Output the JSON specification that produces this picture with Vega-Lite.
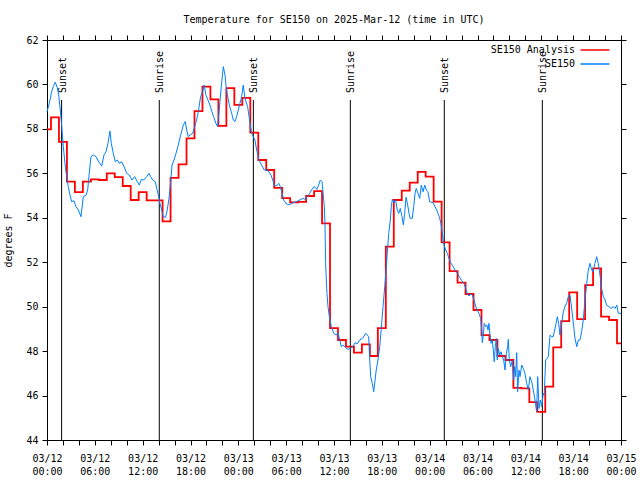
{
  "$schema": "https://vega.github.io/schema/vega-lite/v6.json",
  "width": 574,
  "height": 400,
  "autosize": "none",
  "padding": {"left": 47, "top": 40, "right": 19, "bottom": 40},
  "background": "white",
  "title": {"text": "Temperature for SE150 on 2025-Mar-12 (time in UTC)", "font": "DejaVu Sans Mono", "fontSize": 10, "fontWeight": "normal", "color": "black", "anchor": "middle", "frame": "group", "baseline": "alphabetic", "offset": 2},
  "config": {
    "font": "DejaVu Sans Mono",
    "view": {"stroke": "black", "strokeWidth": 1},
    "axis": {"labelFont": "DejaVu Sans Mono", "labelFontSize": 10, "labelColor": "black", "titleFont": "DejaVu Sans Mono", "titleFontSize": 10, "titleFontWeight": "normal", "titleColor": "black", "domain": false, "grid": false, "tickColor": "black", "tickWidth": 1, "labelOverlap": false, "labelFlush": false, "labelBound": false}
  },
  "datasets": {
    "sun": [
      {"t": "2025-03-12T01:50:00Z", "label": "Sunset"},
      {"t": "2025-03-12T14:05:00Z", "label": "Sunrise"},
      {"t": "2025-03-13T01:53:00Z", "label": "Sunset"},
      {"t": "2025-03-13T14:03:00Z", "label": "Sunrise"},
      {"t": "2025-03-14T01:50:00Z", "label": "Sunset"},
      {"t": "2025-03-14T14:08:00Z", "label": "Sunrise"}
    ],
    "analysis": [
      {"t": "2025-03-12T00:00:00Z", "v": 57.98}, {"t": "2025-03-12T01:00:00Z", "v": 58.52}, {"t": "2025-03-12T02:00:00Z", "v": 57.42}, {"t": "2025-03-12T03:00:00Z", "v": 55.63},
      {"t": "2025-03-12T04:00:00Z", "v": 55.15}, {"t": "2025-03-12T05:00:00Z", "v": 55.63}, {"t": "2025-03-12T06:00:00Z", "v": 55.73}, {"t": "2025-03-12T07:00:00Z", "v": 55.7},
      {"t": "2025-03-12T08:00:00Z", "v": 56.0}, {"t": "2025-03-12T09:00:00Z", "v": 55.83}, {"t": "2025-03-12T10:00:00Z", "v": 55.43}, {"t": "2025-03-12T11:00:00Z", "v": 54.8},
      {"t": "2025-03-12T12:00:00Z", "v": 55.15}, {"t": "2025-03-12T13:00:00Z", "v": 54.78}, {"t": "2025-03-12T14:00:00Z", "v": 54.78}, {"t": "2025-03-12T15:00:00Z", "v": 53.84},
      {"t": "2025-03-12T16:00:00Z", "v": 55.8}, {"t": "2025-03-12T17:00:00Z", "v": 56.4}, {"t": "2025-03-12T18:00:00Z", "v": 57.57}, {"t": "2025-03-12T19:00:00Z", "v": 58.8},
      {"t": "2025-03-12T20:00:00Z", "v": 59.9}, {"t": "2025-03-12T21:00:00Z", "v": 59.33}, {"t": "2025-03-12T22:00:00Z", "v": 58.14}, {"t": "2025-03-12T23:00:00Z", "v": 59.83},
      {"t": "2025-03-13T00:00:00Z", "v": 59.08}, {"t": "2025-03-13T01:00:00Z", "v": 59.4}, {"t": "2025-03-13T02:00:00Z", "v": 57.83}, {"t": "2025-03-13T03:00:00Z", "v": 56.6},
      {"t": "2025-03-13T04:00:00Z", "v": 56.15}, {"t": "2025-03-13T05:00:00Z", "v": 55.35}, {"t": "2025-03-13T06:00:00Z", "v": 54.88}, {"t": "2025-03-13T07:00:00Z", "v": 54.69},
      {"t": "2025-03-13T08:00:00Z", "v": 54.72}, {"t": "2025-03-13T09:00:00Z", "v": 54.98}, {"t": "2025-03-13T10:00:00Z", "v": 55.2}, {"t": "2025-03-13T11:00:00Z", "v": 53.75},
      {"t": "2025-03-13T12:00:00Z", "v": 49.03}, {"t": "2025-03-13T13:00:00Z", "v": 48.5}, {"t": "2025-03-13T14:00:00Z", "v": 48.2}, {"t": "2025-03-13T15:00:00Z", "v": 47.93},
      {"t": "2025-03-13T16:00:00Z", "v": 48.3}, {"t": "2025-03-13T17:00:00Z", "v": 47.78}, {"t": "2025-03-13T18:00:00Z", "v": 49.03}, {"t": "2025-03-13T19:00:00Z", "v": 52.7},
      {"t": "2025-03-13T20:00:00Z", "v": 54.8}, {"t": "2025-03-13T21:00:00Z", "v": 55.22}, {"t": "2025-03-13T22:00:00Z", "v": 55.58}, {"t": "2025-03-13T23:00:00Z", "v": 56.07},
      {"t": "2025-03-14T00:00:00Z", "v": 55.85}, {"t": "2025-03-14T01:00:00Z", "v": 54.73}, {"t": "2025-03-14T02:00:00Z", "v": 52.89}, {"t": "2025-03-14T03:00:00Z", "v": 51.6},
      {"t": "2025-03-14T04:00:00Z", "v": 51.08}, {"t": "2025-03-14T05:00:00Z", "v": 50.57}, {"t": "2025-03-14T06:00:00Z", "v": 49.85}, {"t": "2025-03-14T07:00:00Z", "v": 48.72},
      {"t": "2025-03-14T08:00:00Z", "v": 48.5}, {"t": "2025-03-14T09:00:00Z", "v": 47.78}, {"t": "2025-03-14T10:00:00Z", "v": 47.6}, {"t": "2025-03-14T11:00:00Z", "v": 46.35},
      {"t": "2025-03-14T12:00:00Z", "v": 46.32}, {"t": "2025-03-14T13:00:00Z", "v": 45.7}, {"t": "2025-03-14T14:00:00Z", "v": 45.27}, {"t": "2025-03-14T15:00:00Z", "v": 46.4},
      {"t": "2025-03-14T16:00:00Z", "v": 48.17}, {"t": "2025-03-14T17:00:00Z", "v": 49.35}, {"t": "2025-03-14T18:00:00Z", "v": 50.64}, {"t": "2025-03-14T19:00:00Z", "v": 49.44},
      {"t": "2025-03-14T20:00:00Z", "v": 50.97}, {"t": "2025-03-14T21:00:00Z", "v": 51.72}, {"t": "2025-03-14T22:00:00Z", "v": 49.55}, {"t": "2025-03-14T23:00:00Z", "v": 49.4},
      {"t": "2025-03-15T00:00:00Z", "v": 48.35}
    ],
    "obs": [
      {"t": "2025-03-12T00:00:00Z", "v": 58.77}, {"t": "2025-03-12T00:17:00Z", "v": 59.15}, {"t": "2025-03-12T00:35:00Z", "v": 59.67}, {"t": "2025-03-12T00:47:00Z", "v": 59.9},
      {"t": "2025-03-12T01:02:00Z", "v": 60.1}, {"t": "2025-03-12T01:17:00Z", "v": 59.87}, {"t": "2025-03-12T01:28:00Z", "v": 59.53}, {"t": "2025-03-12T01:40:00Z", "v": 58.85},
      {"t": "2025-03-12T01:51:00Z", "v": 58.1}, {"t": "2025-03-12T02:03:00Z", "v": 57.2}, {"t": "2025-03-12T02:15:00Z", "v": 56.45}, {"t": "2025-03-12T02:28:00Z", "v": 55.85},
      {"t": "2025-03-12T02:40:00Z", "v": 55.4}, {"t": "2025-03-12T02:53:00Z", "v": 55.02}, {"t": "2025-03-12T03:06:00Z", "v": 54.72}, {"t": "2025-03-12T03:23:00Z", "v": 54.77},
      {"t": "2025-03-12T03:38:00Z", "v": 54.5}, {"t": "2025-03-12T03:56:00Z", "v": 54.35}, {"t": "2025-03-12T04:16:00Z", "v": 54.05}, {"t": "2025-03-12T04:33:00Z", "v": 54.95},
      {"t": "2025-03-12T04:54:00Z", "v": 55.02}, {"t": "2025-03-12T05:06:00Z", "v": 55.25}, {"t": "2025-03-12T05:18:00Z", "v": 56.0}, {"t": "2025-03-12T05:31:00Z", "v": 56.75},
      {"t": "2025-03-12T05:48:00Z", "v": 56.83}, {"t": "2025-03-12T06:09:00Z", "v": 56.75}, {"t": "2025-03-12T06:29:00Z", "v": 56.52}, {"t": "2025-03-12T06:52:00Z", "v": 56.33},
      {"t": "2025-03-12T07:09:00Z", "v": 56.83}, {"t": "2025-03-12T07:24:00Z", "v": 56.97}, {"t": "2025-03-12T07:39:00Z", "v": 57.35}, {"t": "2025-03-12T07:54:00Z", "v": 57.9},
      {"t": "2025-03-12T08:04:00Z", "v": 57.35}, {"t": "2025-03-12T08:19:00Z", "v": 56.9}, {"t": "2025-03-12T08:34:00Z", "v": 56.52}, {"t": "2025-03-12T08:49:00Z", "v": 56.6},
      {"t": "2025-03-12T09:04:00Z", "v": 56.45}, {"t": "2025-03-12T09:22:00Z", "v": 56.52}, {"t": "2025-03-12T09:40:00Z", "v": 56.3}, {"t": "2025-03-12T10:00:00Z", "v": 56.0},
      {"t": "2025-03-12T10:19:00Z", "v": 55.92}, {"t": "2025-03-12T10:40:00Z", "v": 55.7}, {"t": "2025-03-12T11:00:00Z", "v": 55.85}, {"t": "2025-03-12T11:20:00Z", "v": 55.62},
      {"t": "2025-03-12T11:35:00Z", "v": 55.47}, {"t": "2025-03-12T11:50:00Z", "v": 55.73}, {"t": "2025-03-12T12:08:00Z", "v": 55.7}, {"t": "2025-03-12T12:30:00Z", "v": 55.85},
      {"t": "2025-03-12T12:48:00Z", "v": 56.0}, {"t": "2025-03-12T13:00:00Z", "v": 55.85}, {"t": "2025-03-12T13:15:00Z", "v": 55.7}, {"t": "2025-03-12T13:35:00Z", "v": 55.62},
      {"t": "2025-03-12T13:46:00Z", "v": 55.32}, {"t": "2025-03-12T13:58:00Z", "v": 55.02}, {"t": "2025-03-12T14:10:00Z", "v": 54.65}, {"t": "2025-03-12T14:23:00Z", "v": 54.35},
      {"t": "2025-03-12T14:35:00Z", "v": 54.05}, {"t": "2025-03-12T14:53:00Z", "v": 54.02}, {"t": "2025-03-12T15:05:00Z", "v": 54.35}, {"t": "2025-03-12T15:18:00Z", "v": 54.87},
      {"t": "2025-03-12T15:31:00Z", "v": 55.62}, {"t": "2025-03-12T15:41:00Z", "v": 56.37}, {"t": "2025-03-12T15:56:00Z", "v": 56.6}, {"t": "2025-03-12T16:11:00Z", "v": 56.9},
      {"t": "2025-03-12T16:28:00Z", "v": 57.27}, {"t": "2025-03-12T16:46:00Z", "v": 57.72}, {"t": "2025-03-12T17:06:00Z", "v": 58.17}, {"t": "2025-03-12T17:21:00Z", "v": 58.33},
      {"t": "2025-03-12T17:31:00Z", "v": 57.95}, {"t": "2025-03-12T17:43:00Z", "v": 57.65}, {"t": "2025-03-12T17:56:00Z", "v": 57.72}, {"t": "2025-03-12T18:16:00Z", "v": 57.8},
      {"t": "2025-03-12T18:31:00Z", "v": 58.1}, {"t": "2025-03-12T18:46:00Z", "v": 58.4}, {"t": "2025-03-12T19:01:00Z", "v": 58.85}, {"t": "2025-03-12T19:16:00Z", "v": 59.45},
      {"t": "2025-03-12T19:31:00Z", "v": 59.67}, {"t": "2025-03-12T19:43:00Z", "v": 59.97}, {"t": "2025-03-12T19:56:00Z", "v": 59.53}, {"t": "2025-03-12T20:11:00Z", "v": 59.3},
      {"t": "2025-03-12T20:26:00Z", "v": 59.08}, {"t": "2025-03-12T20:41:00Z", "v": 58.77}, {"t": "2025-03-12T20:56:00Z", "v": 58.52}, {"t": "2025-03-12T21:11:00Z", "v": 58.25},
      {"t": "2025-03-12T21:24:00Z", "v": 58.1}, {"t": "2025-03-12T21:42:00Z", "v": 59.22}, {"t": "2025-03-12T21:55:00Z", "v": 60.12}, {"t": "2025-03-12T22:07:00Z", "v": 60.8},
      {"t": "2025-03-12T22:20:00Z", "v": 60.42}, {"t": "2025-03-12T22:27:00Z", "v": 59.97}, {"t": "2025-03-12T22:37:00Z", "v": 59.53}, {"t": "2025-03-12T22:52:00Z", "v": 59.08},
      {"t": "2025-03-12T23:10:00Z", "v": 58.7}, {"t": "2025-03-12T23:22:00Z", "v": 58.4}, {"t": "2025-03-12T23:35:00Z", "v": 58.33}, {"t": "2025-03-12T23:47:00Z", "v": 58.55},
      {"t": "2025-03-13T00:00:00Z", "v": 58.85}, {"t": "2025-03-13T00:12:00Z", "v": 59.15}, {"t": "2025-03-13T00:25:00Z", "v": 59.45}, {"t": "2025-03-13T00:37:00Z", "v": 59.97},
      {"t": "2025-03-13T00:50:00Z", "v": 59.37}, {"t": "2025-03-13T01:10:00Z", "v": 59.0}, {"t": "2025-03-13T01:28:00Z", "v": 58.25}, {"t": "2025-03-13T01:40:00Z", "v": 57.8},
      {"t": "2025-03-13T02:05:00Z", "v": 57.5}, {"t": "2025-03-13T02:18:00Z", "v": 57.05}, {"t": "2025-03-13T02:33:00Z", "v": 56.67}, {"t": "2025-03-13T02:48:00Z", "v": 56.45},
      {"t": "2025-03-13T03:15:00Z", "v": 56.15}, {"t": "2025-03-13T03:41:00Z", "v": 56.15}, {"t": "2025-03-13T04:06:00Z", "v": 55.92}, {"t": "2025-03-13T04:19:00Z", "v": 55.7},
      {"t": "2025-03-13T04:31:00Z", "v": 55.47}, {"t": "2025-03-13T04:46:00Z", "v": 55.43}, {"t": "2025-03-13T05:04:00Z", "v": 55.55}, {"t": "2025-03-13T05:16:00Z", "v": 55.4},
      {"t": "2025-03-13T05:29:00Z", "v": 55.1}, {"t": "2025-03-13T05:41:00Z", "v": 54.8}, {"t": "2025-03-13T06:01:00Z", "v": 54.62}, {"t": "2025-03-13T06:27:00Z", "v": 54.59},
      {"t": "2025-03-13T06:51:00Z", "v": 54.68}, {"t": "2025-03-13T07:16:00Z", "v": 54.72}, {"t": "2025-03-13T07:42:00Z", "v": 54.8}, {"t": "2025-03-13T08:07:00Z", "v": 54.87},
      {"t": "2025-03-13T08:24:00Z", "v": 54.83}, {"t": "2025-03-13T08:42:00Z", "v": 54.98}, {"t": "2025-03-13T08:57:00Z", "v": 55.1}, {"t": "2025-03-13T09:14:00Z", "v": 55.28},
      {"t": "2025-03-13T09:32:00Z", "v": 55.4}, {"t": "2025-03-13T09:52:00Z", "v": 55.28}, {"t": "2025-03-13T10:07:00Z", "v": 55.52}, {"t": "2025-03-13T10:17:00Z", "v": 55.7},
      {"t": "2025-03-13T10:30:00Z", "v": 55.62}, {"t": "2025-03-13T10:37:00Z", "v": 55.17}, {"t": "2025-03-13T10:47:00Z", "v": 54.5}, {"t": "2025-03-13T10:52:00Z", "v": 53.75},
      {"t": "2025-03-13T10:57:00Z", "v": 51.95}, {"t": "2025-03-13T11:07:00Z", "v": 50.6}, {"t": "2025-03-13T11:15:00Z", "v": 50.0}, {"t": "2025-03-13T11:25:00Z", "v": 49.55},
      {"t": "2025-03-13T11:40:00Z", "v": 49.1}, {"t": "2025-03-13T11:58:00Z", "v": 48.8}, {"t": "2025-03-13T12:17:00Z", "v": 48.72}, {"t": "2025-03-13T12:30:00Z", "v": 48.83},
      {"t": "2025-03-13T12:43:00Z", "v": 48.5}, {"t": "2025-03-13T12:55:00Z", "v": 48.2}, {"t": "2025-03-13T13:08:00Z", "v": 48.27}, {"t": "2025-03-13T13:28:00Z", "v": 48.15},
      {"t": "2025-03-13T13:45:00Z", "v": 48.08}, {"t": "2025-03-13T14:03:00Z", "v": 48.12}, {"t": "2025-03-13T14:23:00Z", "v": 48.2}, {"t": "2025-03-13T14:38:00Z", "v": 48.38},
      {"t": "2025-03-13T14:53:00Z", "v": 48.32}, {"t": "2025-03-13T15:13:00Z", "v": 48.5}, {"t": "2025-03-13T15:33:00Z", "v": 48.57}, {"t": "2025-03-13T15:46:00Z", "v": 48.68},
      {"t": "2025-03-13T15:59:00Z", "v": 48.8}, {"t": "2025-03-13T16:11:00Z", "v": 48.72}, {"t": "2025-03-13T16:21:00Z", "v": 48.65}, {"t": "2025-03-13T16:29:00Z", "v": 47.6},
      {"t": "2025-03-13T16:36:00Z", "v": 46.85}, {"t": "2025-03-13T16:48:00Z", "v": 46.55}, {"t": "2025-03-13T16:59:00Z", "v": 46.17}, {"t": "2025-03-13T17:09:00Z", "v": 46.7},
      {"t": "2025-03-13T17:18:00Z", "v": 47.15}, {"t": "2025-03-13T17:31:00Z", "v": 47.6}, {"t": "2025-03-13T17:44:00Z", "v": 48.2}, {"t": "2025-03-13T17:56:00Z", "v": 49.03},
      {"t": "2025-03-13T18:09:00Z", "v": 50.0}, {"t": "2025-03-13T18:22:00Z", "v": 50.9}, {"t": "2025-03-13T18:34:00Z", "v": 51.8}, {"t": "2025-03-13T18:41:00Z", "v": 52.4},
      {"t": "2025-03-13T18:52:00Z", "v": 53.3}, {"t": "2025-03-13T19:04:00Z", "v": 53.9}, {"t": "2025-03-13T19:11:00Z", "v": 54.5}, {"t": "2025-03-13T19:19:00Z", "v": 54.83},
      {"t": "2025-03-13T19:32:00Z", "v": 54.68}, {"t": "2025-03-13T19:44:00Z", "v": 54.8}, {"t": "2025-03-13T19:56:00Z", "v": 54.35}, {"t": "2025-03-13T20:07:00Z", "v": 54.2},
      {"t": "2025-03-13T20:19:00Z", "v": 54.42}, {"t": "2025-03-13T20:32:00Z", "v": 54.05}, {"t": "2025-03-13T20:42:00Z", "v": 53.68}, {"t": "2025-03-13T20:52:00Z", "v": 54.2},
      {"t": "2025-03-13T21:02:00Z", "v": 54.92}, {"t": "2025-03-13T21:15:00Z", "v": 54.57}, {"t": "2025-03-13T21:24:00Z", "v": 54.2}, {"t": "2025-03-13T21:34:00Z", "v": 53.97},
      {"t": "2025-03-13T21:49:00Z", "v": 53.97}, {"t": "2025-03-13T22:00:00Z", "v": 54.5}, {"t": "2025-03-13T22:10:00Z", "v": 55.1}, {"t": "2025-03-13T22:19:00Z", "v": 55.32},
      {"t": "2025-03-13T22:32:00Z", "v": 55.1}, {"t": "2025-03-13T22:45:00Z", "v": 54.87}, {"t": "2025-03-13T22:57:00Z", "v": 55.47}, {"t": "2025-03-13T23:10:00Z", "v": 55.17},
      {"t": "2025-03-13T23:23:00Z", "v": 55.47}, {"t": "2025-03-13T23:35:00Z", "v": 55.25}, {"t": "2025-03-13T23:47:00Z", "v": 55.17}, {"t": "2025-03-14T00:00:00Z", "v": 54.72},
      {"t": "2025-03-14T00:25:00Z", "v": 54.68}, {"t": "2025-03-14T00:53:00Z", "v": 54.35}, {"t": "2025-03-14T01:12:00Z", "v": 54.05}, {"t": "2025-03-14T01:25:00Z", "v": 53.75},
      {"t": "2025-03-14T01:40:00Z", "v": 53.07}, {"t": "2025-03-14T01:48:00Z", "v": 52.77}, {"t": "2025-03-14T02:01:00Z", "v": 52.55}, {"t": "2025-03-14T02:13:00Z", "v": 52.4},
      {"t": "2025-03-14T02:25:00Z", "v": 52.17}, {"t": "2025-03-14T02:38:00Z", "v": 51.98}, {"t": "2025-03-14T02:50:00Z", "v": 51.87}, {"t": "2025-03-14T03:11:00Z", "v": 51.65},
      {"t": "2025-03-14T03:28:00Z", "v": 51.5}, {"t": "2025-03-14T03:46:00Z", "v": 51.32}, {"t": "2025-03-14T04:01:00Z", "v": 51.17}, {"t": "2025-03-14T04:18:00Z", "v": 51.05},
      {"t": "2025-03-14T04:31:00Z", "v": 50.83}, {"t": "2025-03-14T04:43:00Z", "v": 50.6}, {"t": "2025-03-14T04:56:00Z", "v": 50.48}, {"t": "2025-03-14T05:09:00Z", "v": 50.57},
      {"t": "2025-03-14T05:21:00Z", "v": 50.52}, {"t": "2025-03-14T05:34:00Z", "v": 50.3}, {"t": "2025-03-14T05:46:00Z", "v": 50.03}, {"t": "2025-03-14T05:58:00Z", "v": 49.85},
      {"t": "2025-03-14T06:11:00Z", "v": 49.7}, {"t": "2025-03-14T06:24:00Z", "v": 49.47}, {"t": "2025-03-14T06:32:00Z", "v": 48.95}, {"t": "2025-03-14T06:36:00Z", "v": 48.38},
      {"t": "2025-03-14T06:44:00Z", "v": 48.72}, {"t": "2025-03-14T06:51:00Z", "v": 49.25}, {"t": "2025-03-14T07:02:00Z", "v": 49.1}, {"t": "2025-03-14T07:11:00Z", "v": 49.17},
      {"t": "2025-03-14T07:19:00Z", "v": 48.95}, {"t": "2025-03-14T07:26:00Z", "v": 49.25}, {"t": "2025-03-14T07:34:00Z", "v": 48.72}, {"t": "2025-03-14T07:42:00Z", "v": 48.35},
      {"t": "2025-03-14T07:51:00Z", "v": 48.5}, {"t": "2025-03-14T07:59:00Z", "v": 48.05}, {"t": "2025-03-14T08:06:00Z", "v": 47.52}, {"t": "2025-03-14T08:14:00Z", "v": 48.2},
      {"t": "2025-03-14T08:21:00Z", "v": 48.57}, {"t": "2025-03-14T08:29:00Z", "v": 47.6}, {"t": "2025-03-14T08:37:00Z", "v": 48.12}, {"t": "2025-03-14T08:47:00Z", "v": 47.82},
      {"t": "2025-03-14T08:57:00Z", "v": 47.97}, {"t": "2025-03-14T09:07:00Z", "v": 47.75}, {"t": "2025-03-14T09:17:00Z", "v": 47.6}, {"t": "2025-03-14T09:27:00Z", "v": 47.15},
      {"t": "2025-03-14T09:37:00Z", "v": 47.9}, {"t": "2025-03-14T09:47:00Z", "v": 48.2}, {"t": "2025-03-14T09:52:00Z", "v": 48.53}, {"t": "2025-03-14T09:59:00Z", "v": 47.6},
      {"t": "2025-03-14T10:10:00Z", "v": 47.3}, {"t": "2025-03-14T10:22:00Z", "v": 47.6}, {"t": "2025-03-14T10:32:00Z", "v": 46.7}, {"t": "2025-03-14T10:40:00Z", "v": 47.3},
      {"t": "2025-03-14T10:47:00Z", "v": 46.85}, {"t": "2025-03-14T10:55:00Z", "v": 47.93}, {"t": "2025-03-14T11:02:00Z", "v": 46.17}, {"t": "2025-03-14T11:12:00Z", "v": 47.15},
      {"t": "2025-03-14T11:20:00Z", "v": 46.85}, {"t": "2025-03-14T11:33:00Z", "v": 47.37}, {"t": "2025-03-14T11:45:00Z", "v": 47.22}, {"t": "2025-03-14T11:57:00Z", "v": 47.0},
      {"t": "2025-03-14T12:10:00Z", "v": 46.55}, {"t": "2025-03-14T12:22:00Z", "v": 46.25}, {"t": "2025-03-14T12:35:00Z", "v": 46.85}, {"t": "2025-03-14T12:48:00Z", "v": 46.62},
      {"t": "2025-03-14T13:00:00Z", "v": 46.25}, {"t": "2025-03-14T13:13:00Z", "v": 45.8}, {"t": "2025-03-14T13:25:00Z", "v": 45.27}, {"t": "2025-03-14T13:33:00Z", "v": 46.85},
      {"t": "2025-03-14T13:43:00Z", "v": 45.42}, {"t": "2025-03-14T13:53:00Z", "v": 45.8}, {"t": "2025-03-14T14:03:00Z", "v": 45.5}, {"t": "2025-03-14T14:15:00Z", "v": 46.1},
      {"t": "2025-03-14T14:22:00Z", "v": 46.02}, {"t": "2025-03-14T14:33:00Z", "v": 47.6}, {"t": "2025-03-14T14:43:00Z", "v": 47.67}, {"t": "2025-03-14T14:53:00Z", "v": 47.75},
      {"t": "2025-03-14T15:06:00Z", "v": 48.72}, {"t": "2025-03-14T15:18:00Z", "v": 48.65}, {"t": "2025-03-14T15:30:00Z", "v": 48.65}, {"t": "2025-03-14T15:38:00Z", "v": 48.87},
      {"t": "2025-03-14T15:49:00Z", "v": 49.17}, {"t": "2025-03-14T16:01:00Z", "v": 49.55}, {"t": "2025-03-14T16:11:00Z", "v": 49.25}, {"t": "2025-03-14T16:21:00Z", "v": 48.72},
      {"t": "2025-03-14T16:34:00Z", "v": 49.25}, {"t": "2025-03-14T16:46:00Z", "v": 49.77}, {"t": "2025-03-14T16:58:00Z", "v": 50.0}, {"t": "2025-03-14T17:11:00Z", "v": 50.15},
      {"t": "2025-03-14T17:23:00Z", "v": 50.45}, {"t": "2025-03-14T17:36:00Z", "v": 50.52}, {"t": "2025-03-14T17:44:00Z", "v": 50.15}, {"t": "2025-03-14T17:53:00Z", "v": 49.7},
      {"t": "2025-03-14T18:04:00Z", "v": 49.1}, {"t": "2025-03-14T18:14:00Z", "v": 48.57}, {"t": "2025-03-14T18:27:00Z", "v": 48.2}, {"t": "2025-03-14T18:39:00Z", "v": 48.5},
      {"t": "2025-03-14T18:51:00Z", "v": 48.5}, {"t": "2025-03-14T19:04:00Z", "v": 48.87}, {"t": "2025-03-14T19:16:00Z", "v": 49.4}, {"t": "2025-03-14T19:29:00Z", "v": 50.3},
      {"t": "2025-03-14T19:42:00Z", "v": 51.05}, {"t": "2025-03-14T19:54:00Z", "v": 51.65}, {"t": "2025-03-14T20:07:00Z", "v": 51.95}, {"t": "2025-03-14T20:19:00Z", "v": 51.65},
      {"t": "2025-03-14T20:31:00Z", "v": 51.57}, {"t": "2025-03-14T20:44:00Z", "v": 51.95}, {"t": "2025-03-14T20:57:00Z", "v": 52.25}, {"t": "2025-03-14T21:09:00Z", "v": 51.95},
      {"t": "2025-03-14T21:22:00Z", "v": 51.42}, {"t": "2025-03-14T21:34:00Z", "v": 50.82}, {"t": "2025-03-14T21:47:00Z", "v": 50.45}, {"t": "2025-03-14T22:00:00Z", "v": 50.3},
      {"t": "2025-03-14T22:12:00Z", "v": 50.07}, {"t": "2025-03-14T22:30:00Z", "v": 50.0}, {"t": "2025-03-14T22:45:00Z", "v": 49.92}, {"t": "2025-03-14T23:02:00Z", "v": 50.0},
      {"t": "2025-03-14T23:15:00Z", "v": 49.92}, {"t": "2025-03-14T23:28:00Z", "v": 50.07}, {"t": "2025-03-14T23:40:00Z", "v": 49.7}, {"t": "2025-03-15T00:00:00Z", "v": 49.7}
    ]
  },
  "resolve": {"axis": {"x": "independent", "y": "independent"}},
  "layer": [
    {
      "data": {"name": "sun"},
      "mark": {"type": "rule", "color": "black", "strokeWidth": 1},
      "encoding": {
        "x": {"field": "t", "type": "temporal",
          "scale": {"type": "utc", "domain": [1741737600000, 1741996800000]},
          "axis": {"orient": "bottom", "title": null,
            "values": [1741737600000, 1741744800000, 1741752000000, 1741759200000, 1741766400000, 1741773600000, 1741780800000, 1741788000000, 1741795200000, 1741802400000, 1741809600000, 1741816800000, 1741824000000, 1741831200000, 1741838400000, 1741845600000, 1741852800000, 1741860000000, 1741867200000, 1741874400000, 1741881600000, 1741888800000, 1741896000000, 1741903200000, 1741910400000, 1741917600000, 1741924800000, 1741932000000, 1741939200000, 1741946400000, 1741953600000, 1741960800000, 1741968000000, 1741975200000, 1741982400000, 1741989600000, 1741996800000],
            "tickSize": 5, "labelPadding": 8, "labelBaseline": "top", "labelLineHeight": 13,
            "labelExpr": "utchours(datum.value) % 6 === 0 ? [utcFormat(datum.value, '%m/%d'), utcFormat(datum.value, '%H:%M')] : ''",
            "encode": {"ticks": {"update": {"y": {"value": 0}, "y2": {"signal": "utchours(datum.value) % 6 === 0 ? -5 : -3"}}}}}},
        "y": {"datum": 44, "type": "quantitative",
          "scale": {"domain": [44, 62], "nice": false, "zero": false},
          "axis": {"orient": "left", "title": "degrees F", "values": [44, 46, 48, 50, 52, 54, 56, 58, 60, 62], "tickSize": 5, "labelPadding": 4, "titlePadding": 12,
            "encode": {"ticks": {"update": {"x": {"value": 0}, "x2": {"value": 4}}}}}},
        "y2": {"datum": 59.3}
      }
    },
    {
      "data": {"name": "sun"},
      "mark": {"type": "text", "angle": 270, "align": "left", "baseline": "alphabetic", "dx": 7, "dy": 4, "font": "DejaVu Sans Mono", "fontSize": 10, "color": "black"},
      "encoding": {
        "x": {"field": "t", "type": "temporal", "axis": null},
        "y": {"datum": 59.3, "type": "quantitative", "axis": null},
        "text": {"field": "label"}
      }
    },
    {
      "data": {"name": "analysis"},
      "mark": {"type": "line", "interpolate": "step", "strokeWidth": 1.8},
      "encoding": {
        "x": {"field": "t", "type": "temporal", "axis": null},
        "y": {"field": "v", "type": "quantitative", "axis": null},
        "color": {"datum": "SE150 Analysis", "type": "nominal",
          "scale": {"domain": ["SE150 Analysis", "SE150"], "range": ["#ff0000", "#0080ff"]},
          "legend": {"orient": "none", "legendX": 542, "legendY": 4, "title": null, "padding": 0, "symbolType": "M-3,0H3", "symbolSize": 93, "symbolStrokeWidth": 1.5, "labelAlign": "right", "labelOffset": -26, "labelFont": "DejaVu Sans Mono", "labelFontSize": 10, "labelColor": "black", "rowPadding": 3}}
      }
    },
    {
      "data": {"name": "obs"},
      "mark": {"type": "line", "strokeWidth": 1},
      "encoding": {
        "x": {"field": "t", "type": "temporal",
          "axis": {"orient": "top", "title": null, "labels": false,
            "values": [1741737600000, 1741744800000, 1741752000000, 1741759200000, 1741766400000, 1741773600000, 1741780800000, 1741788000000, 1741795200000, 1741802400000, 1741809600000, 1741816800000, 1741824000000, 1741831200000, 1741838400000, 1741845600000, 1741852800000, 1741860000000, 1741867200000, 1741874400000, 1741881600000, 1741888800000, 1741896000000, 1741903200000, 1741910400000, 1741917600000, 1741924800000, 1741932000000, 1741939200000, 1741946400000, 1741953600000, 1741960800000, 1741968000000, 1741975200000, 1741982400000, 1741989600000, 1741996800000],
            "tickSize": 5,
            "encode": {"ticks": {"update": {"y": {"value": 0}, "y2": {"signal": "utchours(datum.value) % 6 === 0 ? 5 : 3"}}}}}},
        "y": {"field": "v", "type": "quantitative",
          "axis": {"orient": "right", "title": null, "labels": false, "values": [44, 46, 48, 50, 52, 54, 56, 58, 60, 62], "tickSize": 5,
            "encode": {"ticks": {"update": {"x": {"value": 0}, "x2": {"value": -4}}}}}},
        "color": {"datum": "SE150", "type": "nominal"}
      }
    }
  ]
}
